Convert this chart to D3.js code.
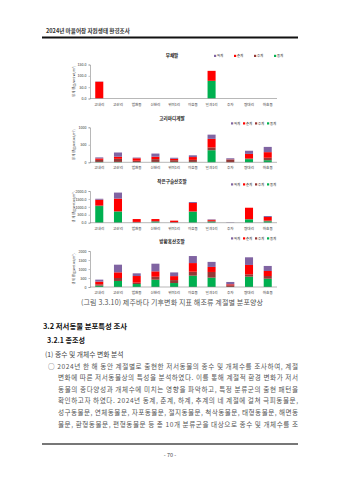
<!DOCTYPE html>
<html>
<head>
    <meta charset="UTF-8">
    <title>제주바다 기후변화 지표 해조류</title>
    <script src="https://cdn.jsdelivr.net/npm/d3@7"></script>
    <style>
        body { margin: 0; background: #fff; }
        text { font-family: "Noto Sans CJK KR", "Noto Sans", sans-serif; }
    </style>
</head>
<body>
    <script>
        // 지역 및 계절
        var regions = ['고내리', '고산리', '법환동', '신천리', '위미1리', '이호동', '일과1리', '추자', '평대리', '하효동']
        var seasons = ['동계', '추계', '춘계', '하계']           // 아래부터 쌓는 순서
        var legendOrder = ['하계', '춘계', '추계', '동계']
        var colors = { '동계': '#00b050', '추계': '#953735', '춘계': '#ff0000', '하계': '#8064a2' }

        // 부채말
        var a_dong = [0, 0, 0, 0, 0, 0, 78, 0, 0, 0]
        var a_chu  = [0, 0, 0, 0, 0, 0, 0, 0, 0, 0]
        var a_chun = [74, 0, 0, 0, 0, 0, 44, 0, 0, 0]
        var a_ha   = [1, 0, 0, 0, 0, 0, 0, 0, 0, 0]

        // 고리마디게발
        var b_dong = [10, 10, 5, 10, 10, 10, 345, 0, 90, 60]
        var b_chu  = [60, 90, 40, 80, 50, 60, 80, 80, 20, 70]
        var b_chun = [40, 60, 70, 70, 40, 80, 245, 5, 130, 160]
        var b_ha   = [30, 120, 20, 90, 30, 50, 120, 30, 90, 150]

        // 작은구슬산호말
        var c_dong = [1050, 700, 10, 70, 0, 690, 70, 0, 210, 90]
        var c_chu  = [40, 30, 40, 40, 40, 30, 50, 0, 20, 40]
        var c_chun = [360, 790, 180, 120, 90, 525, 60, 0, 715, 230]
        var c_ha   = [60, 380, 0, 0, 0, 60, 30, 20, 0, 60]

        // 방황혹산호말
        var d_dong = [75, 335, 165, 405, 220, 630, 520, 0, 575, 460]
        var d_chu  = [75, 165, 75, 165, 165, 220, 315, 95, 130, 150]
        var d_chun = [150, 315, 370, 300, 220, 480, 280, 55, 520, 280]
        var d_ha   = [110, 425, 150, 425, 205, 390, 280, 130, 425, 280]

        var ticksA = [0, 50, 100, 150]
        var ticksB = [0, 500, 1000]
        var ticksC = [0, 500, 1000, 1500, 2000]
        var ticksD = [0, 500, 1000, 1500, 2000]

        var bodyLines = [
            '○ 2024년 한 해 동안 계절별로 출현한 저서동물의 종수 및 개체수를 조사하여, 계절',
            '변화에 따른 저서동물상의 특성을 분석하였다. 이를 통해 계절적 환경 변화가 저서',
            '동물의 종다양성과 개체수에 미치는 영향을 파악하고, 특정 분류군의 출현 패턴을',
            '확인하고자 하였다. 2024년 동계, 춘계, 하계, 추계의 네 계절에 걸쳐 극피동물문,',
            '성구동물문, 연체동물문, 자포동물문, 절지동물문, 척삭동물문, 태형동물문, 해면동',
            '물문, 환형동물문, 편형동물문 등 총 10개 분류군을 대상으로 종수 및 개체수를 조'
        ]

        function rows(dong, chu, chun, ha) {
            return regions.map(function(r, i) {
                return { region: r, '동계': dong[i], '추계': chu[i], '춘계': chun[i], '하계': ha[i] }
            })
        }

        var charts = [
            { title: '부채말', data: rows(a_dong, a_chu, a_chun, a_ha), ticks: ticksA, fmt: '.1f',
              y0: 98.5, y1: 64.5, titleY: 57, legY: 57, legX: 214, legStep: 20 },
            { title: '고리마디게발', data: rows(b_dong, b_chu, b_chun, b_ha), ticks: ticksB, fmt: 'd',
              y0: 162.3, y1: 127.3, titleY: 120, legY: 124.5, legX: 231, legStep: 12 },
            { title: '작은구슬산호말', data: rows(c_dong, c_chu, c_chun, c_ha), ticks: ticksC, fmt: '.1f',
              y0: 222.7, y1: 191, titleY: 183, legY: 185.5, legX: 231, legStep: 12 },
            { title: '방황혹산호말', data: rows(d_dong, d_chu, d_chun, d_ha), ticks: ticksD, fmt: 'd',
              y0: 287, y1: 251, titleY: 242.5, legY: 239.5, legX: 231, legStep: 12 }
        ]

        var svg = d3.select('body')
            .append('svg')
            .attr('width', 339)
            .attr('height', 480)

        svg.append('rect').attr('width', 339).attr('height', 480).attr('fill', '#fff')

        // 머리말
        svg.append('text')
            .attr('x', 46).attr('y', 33)
            .attr('font-size', 5.6).attr('font-weight', 'bold').attr('fill', '#333')
            .text('2024년 마을어장 자원생태 환경조사')
        svg.append('line')
            .attr('x1', 42).attr('x2', 298).attr('y1', 37.5).attr('y2', 37.5)
            .attr('stroke', '#111').attr('stroke-width', 1.8)

        var x = d3.scaleBand()
            .domain(regions)
            .range([90, 277])
            .paddingInner(0.57)
            .paddingOuter(0.28)

        var stack = d3.stack().keys(seasons)

        charts.forEach(function(c) {
            var y = d3.scaleLinear()
                .domain([0, c.ticks[c.ticks.length - 1]])
                .range([c.y0, c.y1])

            var g = svg.append('g')

            g.append('text')
                .attr('x', 172).attr('y', c.titleY)
                .attr('text-anchor', 'middle')
                .attr('font-size', 4.6).attr('font-weight', 'bold').attr('fill', '#222')
                .text(c.title)

            // 범례
            var leg = g.selectAll('.leg')
                .data(legendOrder)
                .enter()
                .append('g')
                .attr('transform', function(d, i) { return 'translate(' + (c.legX + i * c.legStep) + ',' + c.legY + ')' })
            leg.append('rect')
                .attr('x', 0).attr('y', -2.2).attr('width', 2.2).attr('height', 2.2)
                .attr('fill', function(d) { return colors[d] })
            leg.append('text')
                .attr('x', 3).attr('y', 0)
                .attr('font-size', 3.4).attr('fill', '#333')
                .text(function(d) { return d })

            // 막대
            g.selectAll('.layer')
                .data(stack(c.data))
                .enter()
                .append('g')
                .attr('fill', function(d) { return colors[d.key] })
                .selectAll('rect')
                .data(function(d) { return d })
                .enter()
                .append('rect')
                .attr('x', function(d) { return x(d.data.region) })
                .attr('width', x.bandwidth())
                .attr('y', function(d) { return y(d[1]) })
                .attr('height', function(d) { return y(d[0]) - y(d[1]) })

            // 축
            var yAxis = g.append('g')
                .attr('transform', 'translate(90,0)')
                .call(d3.axisLeft(y).tickValues(c.ticks).tickFormat(d3.format(c.fmt)).tickSize(1.5).tickPadding(2))
            var xAxis = g.append('g')
                .attr('transform', 'translate(0,' + c.y0 + ')')
                .call(d3.axisBottom(x).tickSize(0).tickPadding(4.5))

            g.selectAll('.domain').attr('stroke', '#888').attr('stroke-width', 0.6)
            g.selectAll('.tick line').attr('stroke', '#888').attr('stroke-width', 0.5)
            g.selectAll('.tick text').attr('font-size', 3.6).attr('fill', '#333')
                .style('font-family', '"Noto Sans CJK KR", sans-serif')
            xAxis.select('.domain').attr('d', 'M90,0H277')

            g.append('text')
                .attr('transform', 'translate(75,' + ((c.y0 + c.y1) / 2) + ') rotate(-90)')
                .attr('text-anchor', 'middle')
                .attr('font-size', 3.2).attr('fill', '#333')
                .text('생 체 량(g/wet wt/m²)')
        })

        // 그림 설명
        svg.append('text')
            .attr('x', 172).attr('y', 305)
            .attr('text-anchor', 'middle')
            .attr('font-size', 7).attr('fill', '#555')
            .attr('textLength', 182).attr('lengthAdjust', 'spacing')
            .text('(그림 3.3.10) 제주바다 기후변화 지표 해조류 계절별 분포양상')

        // 본문
        svg.append('text')
            .attr('x', 43).attr('y', 329)
            .attr('font-size', 7.4).attr('font-weight', 'bold').attr('fill', '#111')
            .text('3.2 저서동물 분포특성 조사')
        svg.append('text')
            .attr('x', 47).attr('y', 343)
            .attr('font-size', 7).attr('font-weight', 'bold').attr('fill', '#111')
            .text('3.2.1 종조성')
        svg.append('text')
            .attr('x', 45).attr('y', 356.5)
            .attr('font-size', 6.8).attr('fill', '#444')
            .text('(1) 종수 및 개체수 변화 분석')

        svg.selectAll('.body')
            .data(bodyLines)
            .enter()
            .append('text')
            .attr('x', function(d, i) { return i == 0 ? 48 : 58 })
            .attr('y', function(d, i) { return 368.5 + i * 11.6 })
            .attr('font-size', 6.6).attr('fill', '#555')
            .attr('textLength', function(d, i) { return i == 0 ? 250 : 240 })
            .attr('lengthAdjust', 'spacing')
            .text(function(d) { return d })

        svg.append('line')
            .attr('x1', 42).attr('x2', 298).attr('y1', 444).attr('y2', 444)
            .attr('stroke', '#777').attr('stroke-width', 1.8)
        svg.append('text')
            .attr('x', 170).attr('y', 457)
            .attr('text-anchor', 'middle')
            .attr('font-size', 5.5).attr('fill', '#444')
            .text('- 70 -')
    </script>
</body>
</html>
